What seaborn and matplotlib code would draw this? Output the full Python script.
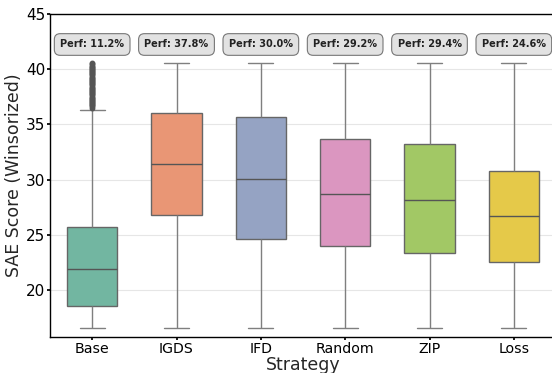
import numpy as np
import pandas as pd
import matplotlib
matplotlib.use("Agg")
import matplotlib.pyplot as plt
import seaborn as sns

# ---- data ----
strategies = ["Base", "IGDS", "IFD", "Random", "ZIP", "Loss"]
whisker_low = [16.63, 16.63, 16.63, 16.63, 16.63, 16.63]
q1 = [18.62, 26.80, 24.61, 24.04, 23.40, 22.53]
median = [21.96, 31.44, 30.03, 28.73, 28.13, 26.75]
q3 = [25.72, 36.02, 35.69, 33.64, 33.19, 30.75]
whisker_high = [36.29, 40.50, 40.50, 40.50, 40.50, 40.50]
base_outliers = [36.5, 36.6, 36.7, 36.8, 36.9, 37.0, 37.1, 37.2, 37.3, 37.4,
                 37.5, 37.6, 37.7, 37.8, 37.9, 38.0, 38.1, 38.2, 38.3, 38.4,
                 38.5, 38.6, 38.7, 38.8, 38.9, 39.0, 39.1, 39.2, 39.3, 39.4,
                 39.5, 39.6, 39.7, 39.8, 39.9, 40.0, 40.1, 40.2, 40.3, 40.4,
                 40.55]
perf_labels = ["Perf: 11.2%", "Perf: 37.8%", "Perf: 30.0%",
               "Perf: 29.2%", "Perf: 29.4%", "Perf: 24.6%"]

# repeat counts that keep Base quartiles at the read values
base_counts = [1, 60, 40, 26, 1]

rows = []
for i, s in enumerate(strategies):
    vals = [whisker_low[i], q1[i], median[i], q3[i], whisker_high[i]]
    if s == "Base":
        for v, c in zip(vals, base_counts):
            rows += [(s, v)] * c
        rows += [(s, v) for v in base_outliers]
    else:
        rows += [(s, v) for v in vals]
df = pd.DataFrame(rows, columns=["Strategy", "Score"])

sns.set_theme(style="whitegrid", rc={
    "axes.edgecolor": "black",
    "axes.linewidth": 1.0,
    "grid.color": "#e6e6e6",
    "grid.linewidth": 0.8,
    "xtick.bottom": True,
    "ytick.left": True,
    "xtick.color": "black",
    "ytick.color": "black",
    "xtick.major.size": 2,
    "ytick.major.size": 2,
})
plt.rcParams["font.family"] = ["DejaVu Sans"]

fig = plt.figure(figsize=(5.52, 3.73), dpi=100)
ax = fig.add_axes([50 / 552, 36 / 373, 506 / 552, 323.5 / 373])

sns.boxplot(data=df, x="Strategy", y="Score", hue="Strategy", palette="Set2",
            order=strategies, width=0.6, linewidth=1.0, legend=False,
            whiskerprops=dict(color="#7f7f7f"), capprops=dict(color="#7f7f7f"),
            boxprops=dict(edgecolor="#666666"), medianprops=dict(color="#555555"),
            flierprops=dict(marker="o", markersize=3.2, markerfacecolor="#555555",
                            markeredgecolor="#555555"), ax=ax)

for i, lab in enumerate(perf_labels):
    ax.text(i, 42.2, lab, ha="center", va="center", fontsize=7,
            fontweight="bold", color="#222222",
            bbox=dict(boxstyle="round,pad=0.6", fc="#e2e2e2", ec="#777777", lw=0.8))

ax.set_ylim(15.78, 45)
ax.set_yticks([20, 25, 30, 35, 40, 45])
ax.xaxis.grid(False)
ax.set_xlabel("Strategy", fontsize=12.5)
ax.set_ylabel("SAE Score (Winsorized)", fontsize=12.5)
ax.tick_params(axis="x", labelsize=10.2, pad=1.5)
ax.tick_params(axis="y", labelsize=11, pad=1.5)
ax.xaxis.set_label_coords(0.5, (337 - 356) / 323.5)
ax.yaxis.set_label_coords((23 - 50) / 506, 0.5)

fig.savefig("out.png", dpi=100)
